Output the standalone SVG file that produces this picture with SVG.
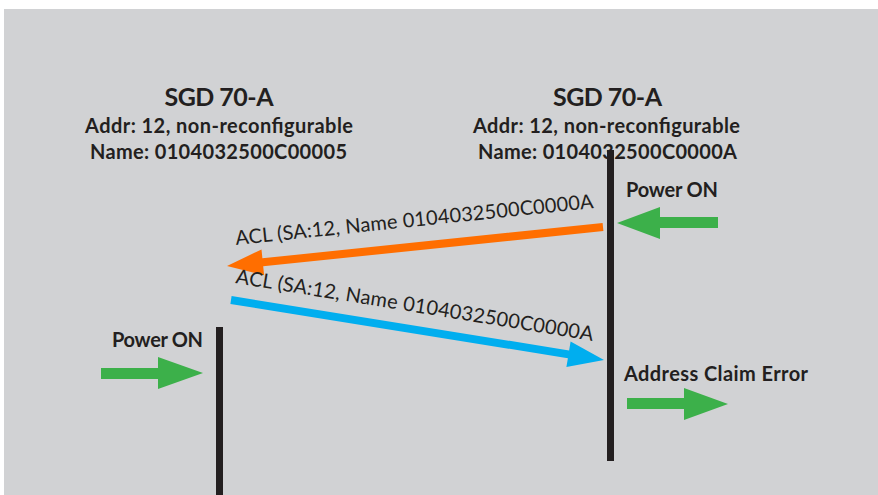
<svg xmlns="http://www.w3.org/2000/svg" width="878" height="495" viewBox="0 0 878 495">
<style>
.t{font-family:Lato,"Noto Sans",sans-serif;fill:#231f20}
.h{font-size:25px;font-weight:bold}
.s{font-size:20px;font-weight:bold}
.l{font-size:20px}
.life{fill:#231f20}
.g{fill:#3cb04a}
</style>
<rect x="0" y="0" width="878" height="495" fill="#ffffff"/>
<rect x="4" y="9" width="874" height="486" fill="#d1d2d4"/>
<g id="node-left">
<text class="t h" x="219" y="106" text-anchor="middle" textLength="109">SGD 70-A</text>
<text class="t s" x="219" y="133" text-anchor="middle" textLength="268">Addr: 12, non-reconfigurable</text>
<text class="t s" x="218.5" y="159" text-anchor="middle" textLength="257">Name: 0104032500C00005</text>
<rect class="life" x="216" y="327" width="7" height="168"/>
</g>
<g id="node-right">
<text class="t h" x="607.5" y="106" text-anchor="middle" textLength="109">SGD 70-A</text>
<text class="t s" x="606.5" y="133" text-anchor="middle" textLength="267">Addr: 12, non-reconfigurable</text>
<text class="t s" x="607.5" y="159" text-anchor="middle" textLength="259">Name: 0104032500C0000A</text>
<rect class="life" x="607" y="150" width="7" height="311"/>
</g>
<g id="event-left-power">
<text class="t s" x="112" y="347" textLength="91">Power ON</text>
<polygon class="g" points="101,368 158,368 158,357 203,373 158,389 158,379 101,379"/>
</g>
<g id="event-right-power">
<text class="t s" x="626" y="197" textLength="92">Power ON</text>
<polygon class="g" points="718,217 660,217 660,207 617,223 660,239 660,228 718,228"/>
</g>
<g id="event-right-error">
<text class="t s" x="624" y="381" textLength="184">Address Claim Error</text>
<polygon class="g" points="627,398 684,398 684,388 728,404 684,420 684,409 627,409"/>
</g>
<g id="connectors">
<polygon fill="#ff6e00" points="602.6,223.0 262.4,258.3 261.5,249.4 227,266 264.1,275.2 263.2,266.3 603.4,231.0"/>
<text class="t l" transform="translate(236,245) rotate(-5.9)" textLength="360">ACL (SA:12, Name 0104032500C0000A</text>
<polygon fill="#00aeef" points="231.6,296.1 569.1,350.4 570.6,341.5 604,360 566.4,367.1 567.9,358.2 230.4,303.9"/>
<text class="t l" transform="translate(235,283) rotate(9.2)" textLength="362">ACL (SA:12, Name 0104032500C0000A</text>
</g>
</svg>
